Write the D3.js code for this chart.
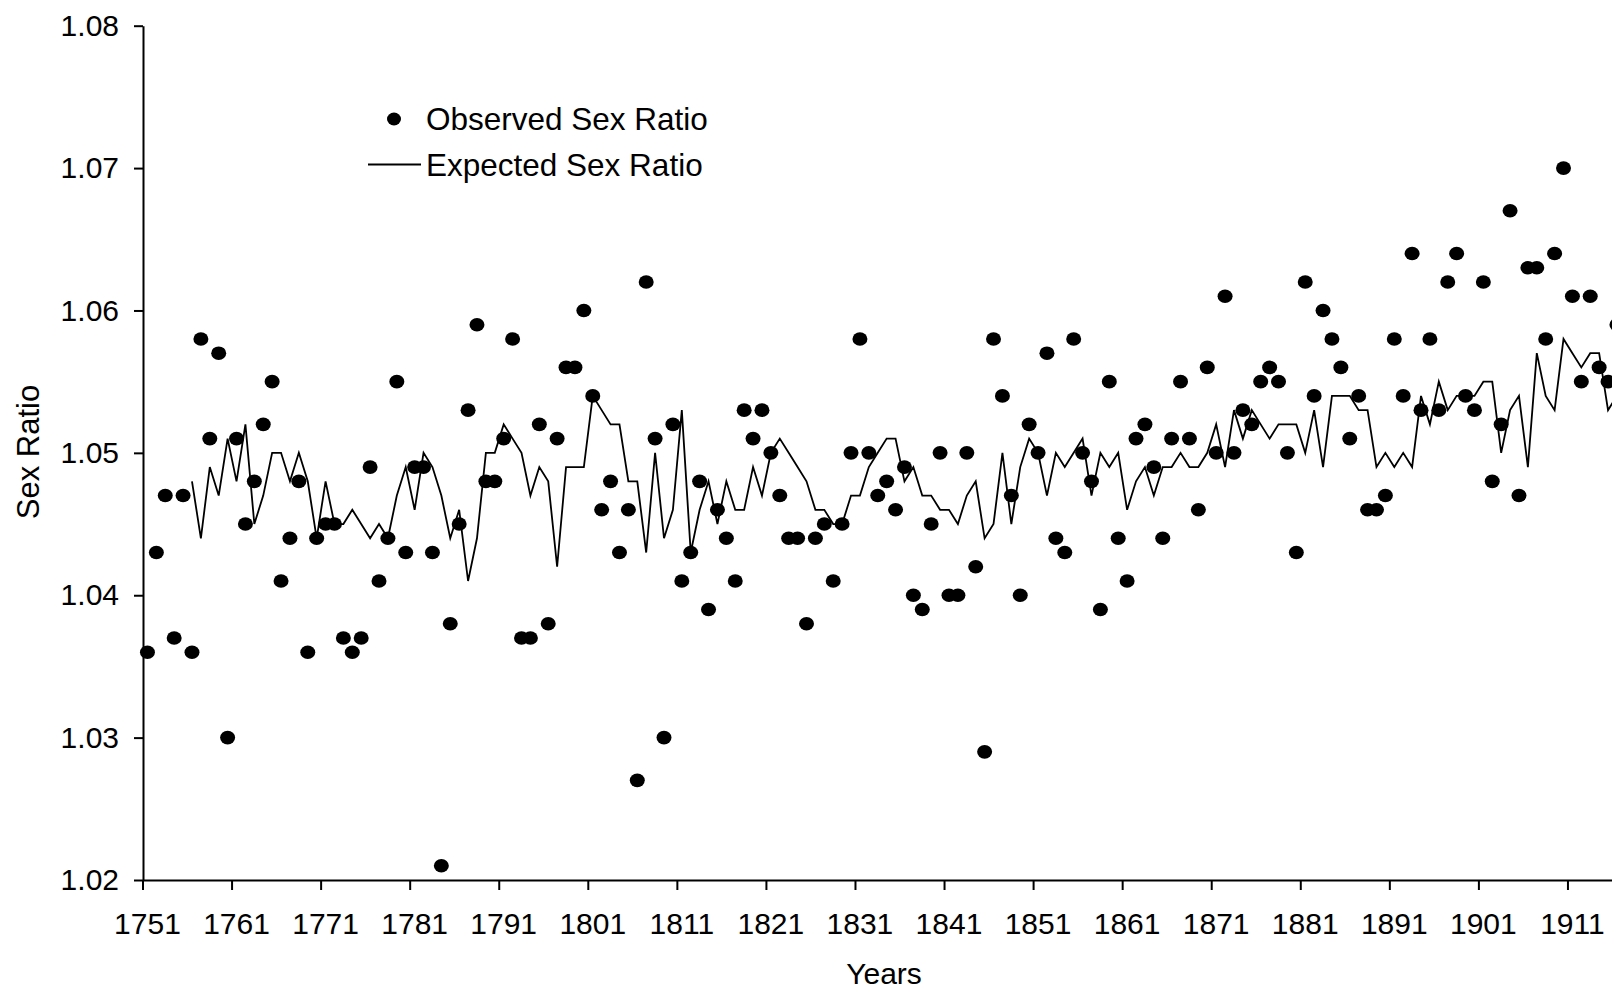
<!DOCTYPE html>
<html>
<head>
<meta charset="utf-8">
<script src="https://cdn.jsdelivr.net/npm/d3@7"></script>
<style>
  html, body { margin: 0; padding: 0; background: #fff; overflow: hidden; }
  svg { display: block; }
  text { font-family: "Liberation Sans", Arial, sans-serif; fill: #000; }
</style>
</head>
<body>
<script>
// ---------- data ----------
const firstYear = 1751;
const years = d3.range(1751, 1917);

const observed = [
  1.036, 1.043, 1.047, 1.037, 1.047, 1.036, 1.058, 1.051, 1.057, 1.030, // 1751-1760
  1.051, 1.045, 1.048, 1.052, 1.055, 1.041, 1.044, 1.048, 1.036, 1.044, // 1761-1770
  1.045, 1.045, 1.037, 1.036, 1.037, 1.049, 1.041, 1.044, 1.055, 1.043, // 1771-1780
  1.049, 1.049, 1.043, 1.021, 1.038, 1.045, 1.053, 1.059, 1.048, 1.048, // 1781-1790
  1.051, 1.058, 1.037, 1.037, 1.052, 1.038, 1.051, 1.056, 1.056, 1.060, // 1791-1800
  1.054, 1.046, 1.048, 1.043, 1.046, 1.027, 1.062, 1.051, 1.030, 1.052, // 1801-1810
  1.041, 1.043, 1.048, 1.039, 1.046, 1.044, 1.041, 1.053, 1.051, 1.053, // 1811-1820
  1.050, 1.047, 1.044, 1.044, 1.038, 1.044, 1.045, 1.041, 1.045, 1.050, // 1821-1830
  1.058, 1.050, 1.047, 1.048, 1.046, 1.049, 1.040, 1.039, 1.045, 1.050, // 1831-1840
  1.040, 1.040, 1.050, 1.042, 1.029, 1.058, 1.054, 1.047, 1.040, 1.052, // 1841-1850
  1.050, 1.057, 1.044, 1.043, 1.058, 1.050, 1.048, 1.039, 1.055, 1.044, // 1851-1860
  1.041, 1.051, 1.052, 1.049, 1.044, 1.051, 1.055, 1.051, 1.046, 1.056, // 1861-1870
  1.050, 1.061, 1.050, 1.053, 1.052, 1.055, 1.056, 1.055, 1.050, 1.043, // 1871-1880
  1.062, 1.054, 1.060, 1.058, 1.056, 1.051, 1.054, 1.046, 1.046, 1.047, // 1881-1890
  1.058, 1.054, 1.064, 1.053, 1.058, 1.053, 1.062, 1.064, 1.054, 1.053, // 1891-1900
  1.062, 1.048, 1.052, 1.067, 1.047, 1.063, 1.063, 1.058, 1.064, 1.070, // 1901-1910
  1.061, 1.055, 1.061, 1.056, 1.055, 1.059                              // 1911-1916
];

const expected = [
  null, null, null, null, null, 1.048, 1.044, 1.049, 1.047, 1.051,       // 1751-1760
  1.048, 1.052, 1.045, 1.047, 1.050, 1.050, 1.048, 1.050, 1.048, 1.044, // 1761-1770
  1.048, 1.045, 1.045, 1.046, 1.045, 1.044, 1.045, 1.044, 1.047, 1.049, // 1771-1780
  1.046, 1.050, 1.049, 1.047, 1.044, 1.046, 1.041, 1.044, 1.050, 1.050, // 1781-1790
  1.052, 1.051, 1.050, 1.047, 1.049, 1.048, 1.042, 1.049, 1.049, 1.049, // 1791-1800
  1.054, 1.053, 1.052, 1.052, 1.048, 1.048, 1.043, 1.050, 1.044, 1.046, // 1801-1810
  1.053, 1.043, 1.046, 1.048, 1.045, 1.048, 1.046, 1.046, 1.049, 1.047, // 1811-1820
  1.050, 1.051, 1.050, 1.049, 1.048, 1.046, 1.046, 1.045, 1.045, 1.047, // 1821-1830
  1.047, 1.049, 1.050, 1.051, 1.051, 1.048, 1.049, 1.047, 1.047, 1.046, // 1831-1840
  1.046, 1.045, 1.047, 1.048, 1.044, 1.045, 1.050, 1.045, 1.049, 1.051, // 1841-1850
  1.050, 1.047, 1.050, 1.049, 1.050, 1.051, 1.047, 1.050, 1.049, 1.050, // 1851-1860
  1.046, 1.048, 1.049, 1.047, 1.049, 1.049, 1.050, 1.049, 1.049, 1.050, // 1861-1870
  1.052, 1.049, 1.053, 1.051, 1.053, 1.052, 1.051, 1.052, 1.052, 1.052, // 1871-1880
  1.050, 1.053, 1.049, 1.054, 1.054, 1.054, 1.053, 1.053, 1.049, 1.050, // 1881-1890
  1.049, 1.050, 1.049, 1.054, 1.052, 1.055, 1.053, 1.054, 1.054, 1.054, // 1891-1900
  1.055, 1.055, 1.050, 1.053, 1.054, 1.049, 1.057, 1.054, 1.053, 1.058, // 1901-1910
  1.057, 1.056, 1.057, 1.057, 1.053, 1.054                              // 1911-1916
];

const yTicks = [1.02, 1.03, 1.04, 1.05, 1.06, 1.07, 1.08];
const xLabelYears = [1751, 1761, 1771, 1781, 1791, 1801, 1811, 1821, 1831, 1841, 1851, 1861, 1871, 1881, 1891, 1901, 1911];
const seriesNames = ["Observed Sex Ratio", "Expected Sex Ratio"];
const axisTitles = { x: "Years", y: "Sex Ratio" };

// ---------- layout ----------
const W = 1612, H = 992;
const plotLeft = 143, plotTop = 25.7, plotBottom = 880;
const catW = 8.906;

const svg = d3.select("body").append("svg")
  .attr("width", W).attr("height", H)
  .attr("viewBox", `0 0 ${W} ${H}`);

svg.append("rect").attr("width", W).attr("height", H).attr("fill", "#fff");

const x = d3.scaleBand()
  .domain(years)
  .range([plotLeft, plotLeft + years.length * catW])
  .paddingInner(0).paddingOuter(0);
const bw = x.bandwidth();
const cx = yr => x(yr) + bw / 2;

const y = d3.scaleLinear().domain([1.02, 1.08]).range([plotBottom, plotTop]);

// ---------- expected line ----------
const lineData = years.map((yr, i) => ({ yr, v: expected[i] }));
const line = d3.line()
  .defined(d => d.v != null)
  .x(d => cx(d.yr))
  .y(d => y(d.v));

svg.append("path")
  .datum(lineData)
  .attr("fill", "none")
  .attr("stroke", "#000")
  .attr("stroke-width", 1.8)
  .attr("stroke-linejoin", "miter")
  .attr("d", line);

// ---------- observed points ----------
svg.append("g")
  .selectAll("ellipse")
  .data(years.map((yr, i) => ({ yr, v: observed[i] })))
  .join("ellipse")
  .attr("cx", d => cx(d.yr))
  .attr("cy", d => y(d.v))
  .attr("rx", 7.5)
  .attr("ry", 6.8)
  .attr("fill", "#000");

// ---------- y axis ----------
const yAxis = d3.axisLeft(y)
  .tickValues(yTicks)
  .tickFormat(d3.format(".2f"))
  .tickSize(9)
  .tickSizeOuter(0)
  .tickPadding(15);

const gy = svg.append("g")
  .attr("transform", `translate(${plotLeft},0)`)
  .call(yAxis);
gy.select(".domain").attr("stroke-width", 2);
gy.selectAll(".tick line").attr("stroke-width", 2);
gy.selectAll(".tick text")
  .attr("font-size", 30)
  .attr("font-family", '"Liberation Sans", Arial, sans-serif')
  .attr("fill", "#000");

// ---------- x axis ----------
const xAxis = d3.axisBottom(x)
  .tickValues(xLabelYears)
  .tickSize(10)
  .tickSizeOuter(0)
  .tickPadding(8);

const gx = svg.append("g")
  .attr("transform", `translate(0,${plotBottom})`)
  .call(xAxis);
gx.select(".domain").attr("stroke-width", 2);
gx.selectAll(".tick line")
  .attr("x1", -bw / 2).attr("x2", -bw / 2)
  .attr("stroke-width", 2);
gx.selectAll(".tick text")
  .attr("y", 54).attr("dy", 0)
  .attr("font-size", 30)
  .attr("font-family", '"Liberation Sans", Arial, sans-serif')
  .attr("fill", "#000");

// ---------- axis titles ----------
svg.append("text")
  .attr("x", 884).attr("y", 984)
  .attr("text-anchor", "middle")
  .attr("font-size", 30)
  .text(axisTitles.x);

svg.append("text")
  .attr("transform", "translate(39,452) rotate(-90)")
  .attr("text-anchor", "middle")
  .attr("font-size", 31)
  .text(axisTitles.y);

// ---------- legend ----------
const lg = svg.append("g");
lg.append("ellipse")
  .attr("cx", 394).attr("cy", 119).attr("rx", 7).attr("ry", 6.5)
  .attr("fill", "#000");
lg.append("text")
  .attr("x", 426).attr("y", 119).attr("dy", "0.35em")
  .attr("font-size", 31.5)
  .text(seriesNames[0]);
lg.append("line")
  .attr("x1", 368).attr("x2", 421)
  .attr("y1", 164.5).attr("y2", 164.5)
  .attr("stroke", "#000").attr("stroke-width", 1.8);
lg.append("text")
  .attr("x", 426).attr("y", 164.5).attr("dy", "0.35em")
  .attr("font-size", 31.5)
  .text(seriesNames[1]);
</script>
</body>
</html>
